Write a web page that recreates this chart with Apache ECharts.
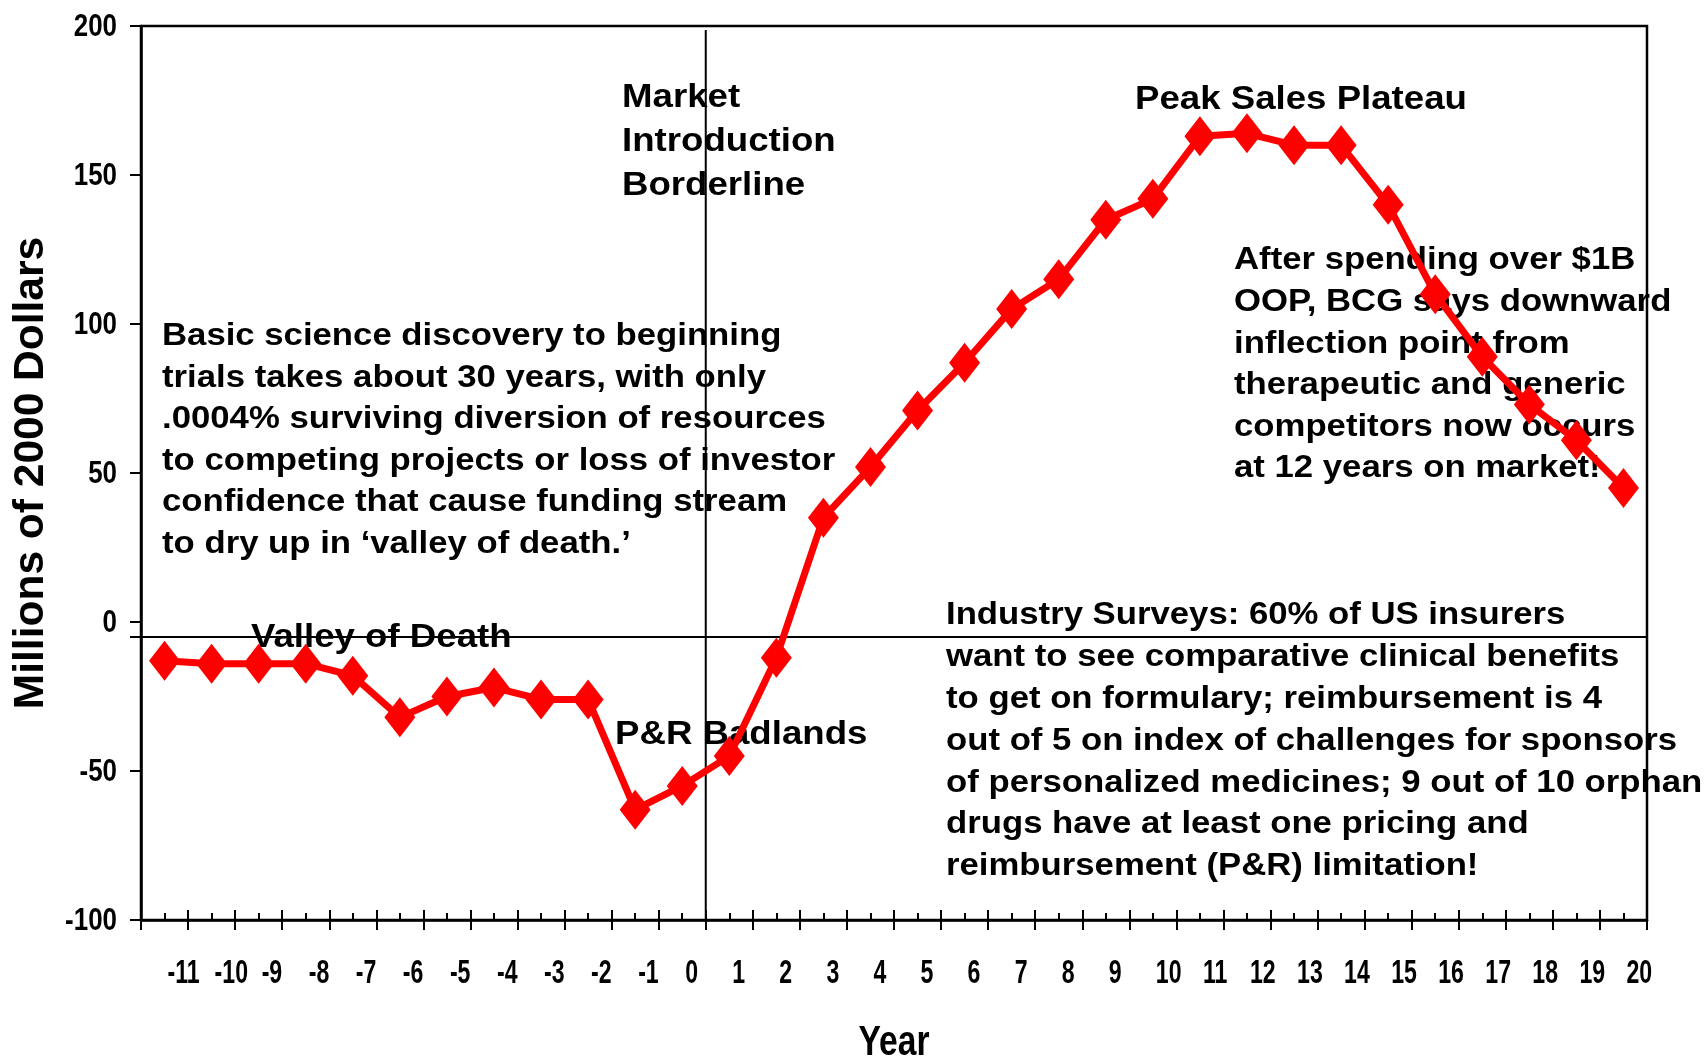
<!DOCTYPE html>
<html>
<head>
<meta charset="utf-8">
<script src="https://cdn.jsdelivr.net/npm/echarts@6/dist/echarts.min.js"></script>
<style>
  html, body { margin: 0; padding: 0; background: #fff; }
  #chart { width: 1708px; height: 1057px; }
</style>
</head>
<body>
<div id="chart"></div>
<script>
// Years relative to market introduction
const years = ['-11', '-10', '-9', '-8', '-7', '-6', '-5', '-4', '-3', '-2', '-1', '0',
               '1', '2', '3', '4', '5', '6', '7', '8', '9', '10', '11', '12',
               '13', '14', '15', '16', '17', '18', '19', '20'];

// Net cash flow per year, millions of 2000 dollars
const netValue = [-13, -14, -14, -14, -18, -32, -25, -22, -26, -26, -63, -55,
                  -45, -12, 35, 52, 71, 87, 105, 115, 135, 142, 163, 164,
                  160, 160, 140, 110, 89, 73, 61, 45];

// Value axis range, step and tick labels
const yMin = -100;
const yMax = 200;
const yStep = 50;
const yTickLabels = ['-100', '-50', '0', '50', '100', '150', '200'];

// Axis titles
const xTitle = 'Year';
const yTitle = 'Millions of 2000 Dollars';

// Reference level drawn across the plot, and the years the launch line separates
const referenceLevel = -5;
const launchBetween = ['0', '1'];

// Phase labels
const labelMarket = ['Market', 'Introduction', 'Borderline'];
const labelPeak = ['Peak Sales Plateau'];
const labelValley = ['Valley of Death'];
const labelBadlands = ['P&R Badlands'];

// Commentary blocks
const noteBasic = [
  'Basic science discovery to beginning',
  'trials takes about 30 years, with only',
  '.0004% surviving diversion of resources',
  'to competing projects or loss of investor',
  'confidence that cause funding stream',
  'to dry up in \u2018valley of death.\u2019'
];
const noteAfter = [
  'After spending over $1B',
  'OOP, BCG says downward',
  'inflection point from',
  'therapeutic and generic',
  'competitors now occurs',
  'at 12 years on market!'
];
const noteSurveys = [
  'Industry Surveys: 60% of US insurers',
  'want to see comparative clinical benefits',
  'to get on formulary; reimbursement is 4',
  'out of 5 on index of challenges for sponsors',
  'of personalized medicines; 9 out of 10 orphan',
  'drugs have at least one pricing and',
  'reimbursement (P&R) limitation!'
];

const SANS = "'Liberation Sans', Arial, Helvetica, sans-serif";
const INK = '#000000';
const RED = '#ff0000';

const chart = echarts.init(document.getElementById('chart'), null, { renderer: 'canvas' });

const tickStyle = { color: INK, width: 2 };
const catBase = { type: 'category', data: years, boundaryGap: true, position: 'bottom', gridIndex: 0 };

chart.setOption({
  animation: false,
  backgroundColor: '#ffffff',
  grid: {
    left: 141, top: 26, right: 61, bottom: 137,
    outerBoundsMode: 'none', containLabel: false,
    show: true, borderColor: INK, borderWidth: 2.5, backgroundColor: 'transparent'
  },
  xAxis: [
    // main axis: line plus tick marks below it
    Object.assign({}, catBase, {
      axisLine: { show: true, onZero: false, lineStyle: { color: INK, width: 2.5 } },
      axisTick: { show: true, interval: 0, inside: false, length: 10, lineStyle: tickStyle },
      axisLabel: { show: false, interval: 0 },
      splitLine: { show: false }
    }),
    // same ticks continued above the line
    Object.assign({}, catBase, {
      axisLine: { show: false, onZero: false },
      axisTick: { show: true, interval: 0, inside: true, length: 10, lineStyle: tickStyle },
      axisLabel: { show: false },
      splitLine: { show: false }
    }),
    // short marks at each year's centre
    Object.assign({}, catBase, {
      axisLine: { show: false, onZero: false },
      axisTick: { show: true, interval: 0, inside: true, alignWithLabel: true, length: 7, lineStyle: tickStyle },
      axisLabel: { show: false },
      splitLine: { show: false }
    })
  ],
  yAxis: {
    type: 'value', min: yMin, max: yMax, interval: yStep,
    axisLine: { show: true, onZero: false, lineStyle: { color: INK, width: 2.5 } },
    axisTick: { show: true, length: 11, lineStyle: tickStyle },
    splitLine: { show: false },
    axisLabel: { show: false },
    name: yTitle, nameLocation: 'middle', nameGap: 88, nameRotate: 90,
    nameTextStyle: { fontFamily: SANS, fontWeight: 'bold', fontSize: 42.5, color: INK }
  },
  series: [{
    type: 'line',
    data: netValue,
    xAxisIndex: 0,
    yAxisIndex: 0,
    symbol: 'diamond',
    symbolSize: [31, 40],
    showAllSymbol: true,
    lineStyle: { color: RED, width: 7, join: 'round' },
    itemStyle: { color: RED },
    z: 5
  }]
});

// Pixel mapping from the axes
const px = (cat) => chart.convertToPixel({ xAxisIndex: 0 }, cat);
const py = (v) => chart.convertToPixel({ yAxisIndex: 0 }, v);
const band = px(years[1]) - px(years[0]);
const plotLeft = px(years[0]) - band / 2;
const plotRight = px(years[years.length - 1]) + band / 2;
const plotTop = py(yMax);
const plotBottom = py(yMin);
const launchX = (px(launchBetween[0]) + px(launchBetween[1])) / 2;
const refY = py(referenceLevel);

// Bold condensed lettering (horizontally squeezed Liberation Sans)
function squeezed(text, x, y, size, squeeze, align) {
  return {
    type: 'text', x: x, y: y, scaleX: squeeze, scaleY: 1, z: 3, silent: true,
    style: {
      text: text, fill: INK,
      fontFamily: SANS, fontWeight: 'bold', fontSize: size,
      align: align, verticalAlign: 'middle'
    }
  };
}

function textBlock(lines, x, y, size, lineHeight, stretch) {
  return {
    type: 'text', x: x, y: y, scaleX: stretch, scaleY: 1, z: 1, silent: true,
    style: {
      text: lines.join('\n'),
      fill: INK,
      fontFamily: SANS, fontWeight: 'bold', fontSize: size,
      lineHeight: lineHeight,
      align: 'left', verticalAlign: 'top'
    }
  };
}

const graphics = [
  {
    type: 'line', z: 2, silent: true,
    shape: { x1: plotLeft - 11, y1: refY, x2: plotRight, y2: refY },
    style: { stroke: INK, lineWidth: 2 }
  },
  {
    type: 'line', z: 2, silent: true,
    shape: { x1: launchX, y1: plotTop + 4, x2: launchX, y2: plotBottom },
    style: { stroke: INK, lineWidth: 2 }
  },
  textBlock(labelMarket, 622, 76, 33, 44, 1.11),
  textBlock(labelPeak, 1135, 78, 33, 44, 1.11),
  textBlock(labelValley, 251, 616, 33, 44, 1.11),
  textBlock(labelBadlands, 615, 713, 33, 44, 1.11),
  textBlock(noteBasic, 162, 316, 31, 41.5, 1.12),
  textBlock(noteAfter, 1234, 240, 31, 41.6, 1.12),
  textBlock(noteSurveys, 946, 595, 31, 41.8, 1.12)
];

// Year labels, left-aligned just right of each year's centre
years.forEach(function (yr) {
  graphics.push(squeezed(yr, px(yr) + 3, plotBottom + 54, 33, 0.7, 'left'));
});

// Value labels beside the left axis
yTickLabels.forEach(function (lbl) {
  graphics.push(squeezed(lbl, plotLeft - 24, py(Number(lbl)) + 1.5, 30.5, 0.85, 'right'));
});

// Horizontal axis title
graphics.push(squeezed(xTitle, (plotLeft + plotRight) / 2, plotBottom + 123, 42, 0.8, 'center'));

chart.setOption({ graphic: graphics });
</script>
</body>
</html>
